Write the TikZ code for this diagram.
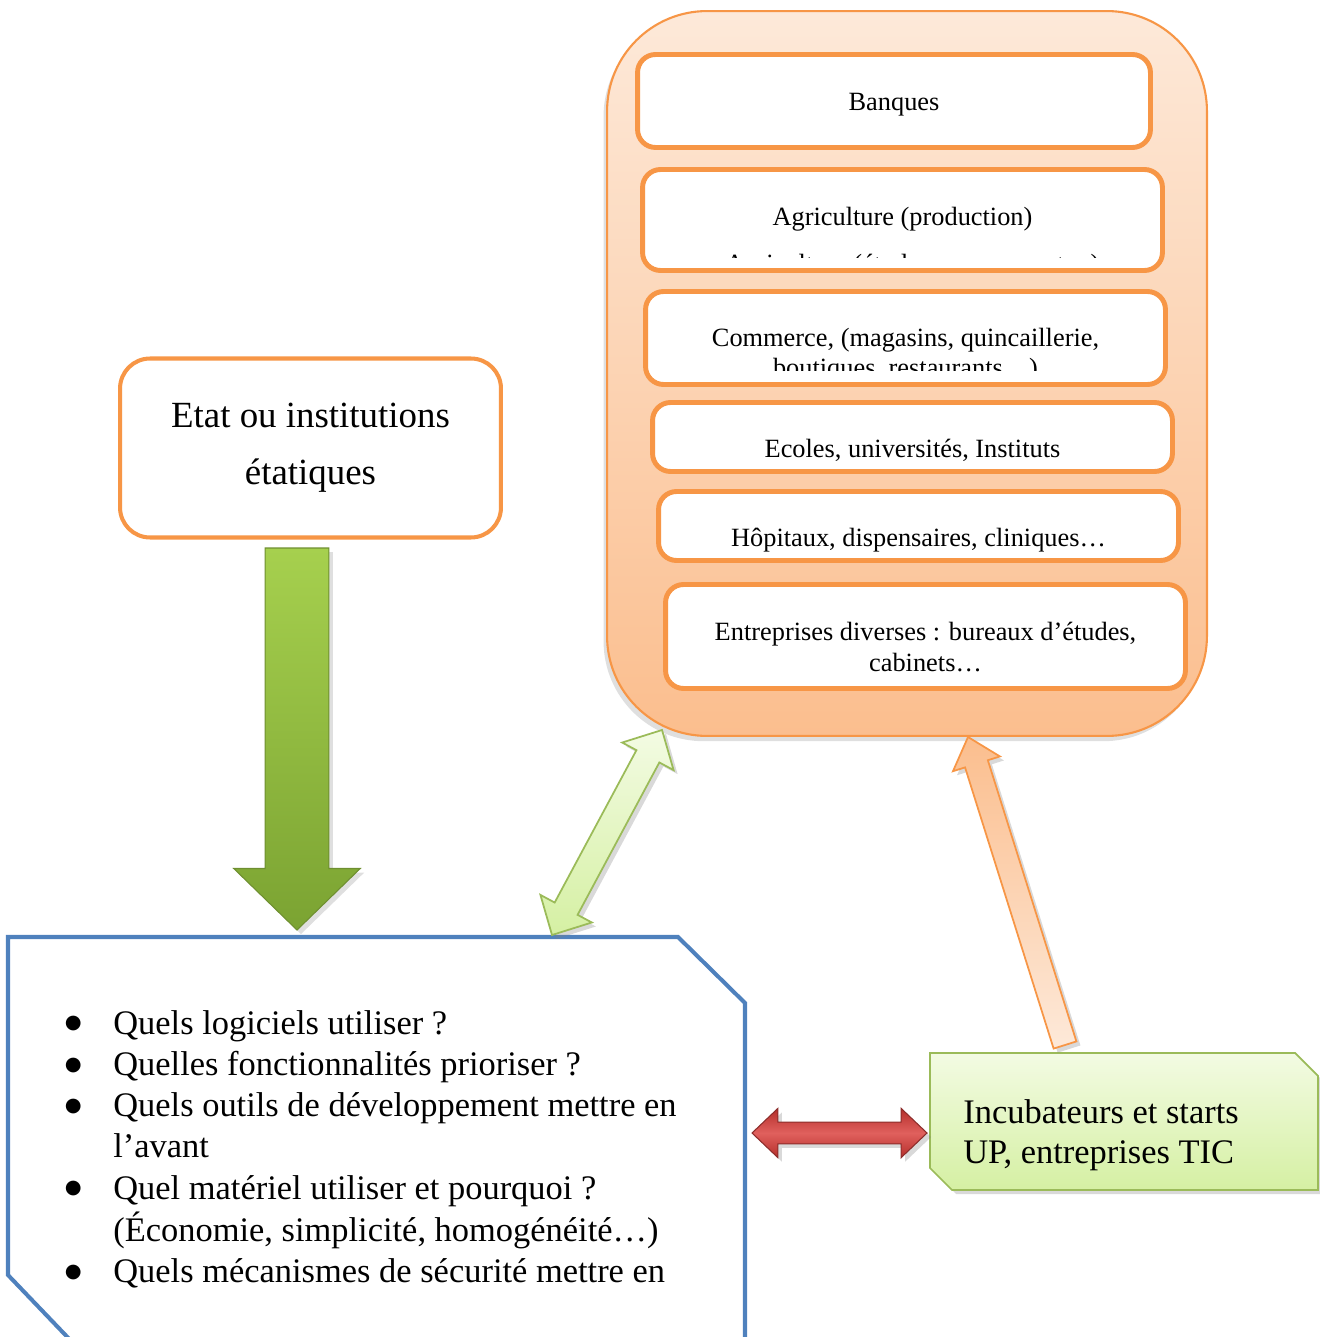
\documentclass[tikz,border=0pt]{standalone}
\usepackage{fontspec}
\setmainfont{Liberation Serif}
\newfontfamily\symfont{DejaVu Sans}
\usetikzlibrary{calc,shadows}
\definecolor{orangeline}{HTML}{F79646}
\definecolor{peachtop}{HTML}{FDE9D9}
\definecolor{peachbot}{HTML}{FBBE8E}
\definecolor{blueline}{HTML}{4F81BD}
\definecolor{oliveline}{HTML}{9BBB59}
\definecolor{greentop}{HTML}{A6D04E}
\definecolor{greenbot}{HTML}{7BA332}
\definecolor{greenedge}{HTML}{6E8F30}
\definecolor{palegreentop}{HTML}{F3FBE3}
\definecolor{palegreenbot}{HTML}{D5F0A3}
\definecolor{reddark}{HTML}{B52F2B}
\definecolor{redlight}{HTML}{E0605D}
\definecolor{rededge}{HTML}{8C2D2B}
\tikzstyle{container} = [rectangle, rounded corners=2cm, draw=orangeline, line width=1.2pt, top color=peachtop, bottom color=peachbot, minimum width=12cm, minimum height=14.5cm, drop shadow={opacity=.25, shadow xshift=-2pt, shadow yshift=-3pt}]
\tikzstyle{sector} = [rectangle, rounded corners=0.36cm, draw=orangeline, line width=2.8pt, fill=white, minimum width=10.4cm]
\tikzstyle{sectortext} = [font=\fontsize{15}{17.6}\selectfont, inner sep=0pt, anchor=base, align=center]
\tikzstyle{etatbox} = [rectangle, rounded corners=0.6cm, draw=orangeline, line width=2.3pt, fill=white, minimum width=7.62cm, minimum height=3.58cm, align=center, font=\fontsize{21}{32.3}\selectfont]
\tikzstyle{questionframe} = [draw=blueline, line width=2.3pt]
\tikzstyle{incubbox} = [draw=oliveline, line width=1pt, top color=palegreentop, bottom color=palegreenbot, drop shadow={opacity=.3}]
\tikzstyle{greenarrow} = [draw=greenedge, line width=.6pt, top color=greentop, bottom color=greenbot, drop shadow={opacity=.25}]
\tikzstyle{palearrow} = [draw=oliveline, line width=1pt, top color=palegreentop, bottom color=palegreenbot, drop shadow={opacity=.3}]
\tikzstyle{redarrow} = [draw=rededge, line width=.6pt, top color=reddark, bottom color=reddark, middle color=redlight, drop shadow={opacity=.3}]
\tikzstyle{peacharrow} = [draw=orangeline, line width=1pt, top color=peachbot, bottom color=peachtop, drop shadow={opacity=.3}]
\newcommand{\qbullet}{\hspace*{6.8pt}\makebox[0pt][c]{\raisebox{3pt}{\symfont\fontsize{11}{11}\selectfont ●}}}
% block arrow: style, from, to, shaft half width, head half width, head length
\newcommand{\blockarrow}[6]{%
  \coordinate (ba-h) at ($(#3)!#6!(#2)$);
  \path[#1] ($(#2)!#4!90:(#3)$) -- ($(ba-h)!#4!90:(#3)$) -- ($(ba-h)!#5!90:(#3)$) -- (#3)
    -- ($(ba-h)!#5!-90:(#3)$) -- ($(ba-h)!#4!-90:(#3)$) -- ($(#2)!#4!-90:(#3)$) -- cycle;}
\newcommand{\blockarrows}[6]{%
  \coordinate (ba-h) at ($(#3)!#6!(#2)$);
  \coordinate (ba-t) at ($(#2)!#6!(#3)$);
  \path[#1] (#2) -- ($(ba-t)!#5!90:(#3)$) -- ($(ba-t)!#4!90:(#3)$) -- ($(ba-h)!#4!90:(#3)$)
    -- ($(ba-h)!#5!90:(#3)$) -- (#3) -- ($(ba-h)!#5!-90:(#3)$) -- ($(ba-h)!#4!-90:(#3)$)
    -- ($(ba-t)!#4!-90:(#3)$) -- ($(ba-t)!#5!-90:(#3)$) -- cycle;}

\begin{document}
\begin{tikzpicture}[x=0.02cm, y=-0.02cm]
\useasboundingbox (0,0) rectangle (1319,1337);

% sectors
\node[container] (secteurs) at (907,373.5) {};
\node[sector, minimum width=10.26cm, minimum height=1.86cm] (banques) at (894,101) {};
\node[sector, minimum height=2.02cm] (agriculture) at (902.5,220) {};
\node[sector, minimum height=1.86cm] (commerce) at (905.5,338) {};
\node[sector, minimum height=1.38cm] (ecoles) at (912.5,437) {};
\node[sector, minimum height=1.38cm] (hopitaux) at (918.5,526) {};
\node[sector, minimum height=2.08cm] (entreprises) at (925.5,636.5) {};

\node[sectortext] (banquesTxt) at (894,111) {Banques};
\node[sectortext] (agriTxt) at (902.5,226) {Agriculture (production)};
\begin{scope}
  \clip (640,232) rectangle (1165,258);
  \node[sectortext, anchor=base west] (agriMore) at (725,273) {Agriculture (étude, recensement…)};
\end{scope}
\node[sectortext] (commerceTxt) at (905.5,347) {Commerce, (magasins, quincaillerie,};
\begin{scope}
  \clip (643,352) rectangle (1168,371);
  \node[sectortext] (commerceMore) at (905.5,377) {boutiques, restaurants…)};
\end{scope}
\node[sectortext] (ecolesTxt) at (912.5,458) {Ecoles, universités, Instituts};
\node[sectortext] (hopitauxTxt) at (918.5,546) {Hôpitaux, dispensaires, cliniques…};
\node[sectortext] (entreprisesTxt) at (925.5,671) {Entreprises diverses : bureaux d’études,\\cabinets…};

% state
\node[etatbox] (etat) at (310.5,448) {Etat ou institutions\\étatiques};

% questions
\draw[questionframe] (75,1345) -- (8,1275) -- (8,937) -- (678,937) -- (745,1003) -- (745,1345);
\node[anchor=base west, inner sep=0pt, font=\fontsize{19.6}{23.5}\selectfont] (questions) at (61,1034) {%
  \begin{tabular}[t]{@{}p{1.04cm}@{}l@{}}
  \qbullet & Quels logiciels utiliser ?\\
  \qbullet & Quelles fonctionnalités prioriser ?\\
  \qbullet & Quels outils de développement mettre en\\
           & l’avant\\
  \qbullet & Quel matériel utiliser et pourquoi ?\\
           & (Économie, simplicité, homogénéité…)\\
  \qbullet & Quels mécanismes de sécurité mettre en
  \end{tabular}};

% incubators
\draw[incubbox] (930,1053) -- (1295,1053) -- (1318,1076) -- (1318,1190) -- (952,1190) -- (930,1168) -- cycle;
\node[anchor=base west, align=left, inner sep=0pt, font=\fontsize{19.6}{22.7}\selectfont] (incubTxt) at (963,1163) {Incubateurs et starts\\UP, entreprises TIC};

% arrows
\coordinate (etatOut) at (297,548);
\coordinate (questIn) at (297,930);
\blockarrow{greenarrow}{etatOut}{questIn}{18.1pt}{36pt}{35pt}
\coordinate (questTop) at (552,935);
\coordinate (secteursLow) at (662,730);
\blockarrows{palearrow}{questTop}{secteursLow}{7.4pt}{16.6pt}{17pt}
\coordinate (questRight) at (752,1133);
\coordinate (incubLeft) at (927,1133);
\blockarrows{redarrow}{questRight}{incubLeft}{6.2pt}{14pt}{14.7pt}
\coordinate (incubTop) at (1065,1045);
\coordinate (secteursBottom) at (968,737);
\blockarrow{peacharrow}{incubTop}{secteursBottom}{6.8pt}{14pt}{16pt}
\end{tikzpicture}
\end{document}
